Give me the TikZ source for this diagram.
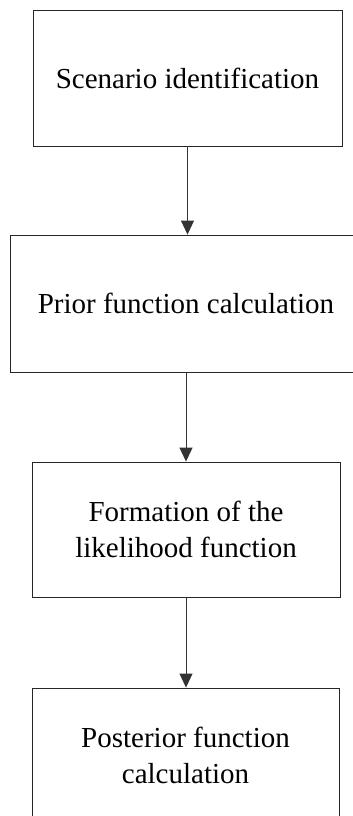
\documentclass[tikz,border=0pt]{standalone}
\usepackage{fontspec}
\setmainfont{Liberation Serif}
\usetikzlibrary{arrows.meta}
\begin{document}
\begin{tikzpicture}[x=1pt,y=-1pt,
  stage/.style={draw=black!85, line width=0.9pt, rectangle, align=center,
    inner sep=0pt, font=\fontsize{29}{35.5}\selectfont},
  flow/.style={draw=black!80, line width=0.9pt,
    -{Triangle[length=14pt,width=13pt]}}]
\useasboundingbox (0,0) rectangle (353,816);
\clip (0,0) rectangle (353,816);
% process stages, top to bottom
\node[stage, minimum width=309pt, minimum height=136pt] (s1) at (187.5,78)
  {Scenario identification};
\node[stage, minimum width=352pt, minimum height=137pt] (s2) at (186,303.5)
  {Prior function calculation};
\node[stage, minimum width=308pt, minimum height=135pt] (s3) at (186,529.5)
  {Formation of the\\likelihood function};
\node[stage, minimum width=307pt, minimum height=135pt] (s4) at (185.5,755.5)
  {Posterior function\\calculation};
% connectors
\draw[flow] (s1.south) -- (s1.south |- s2.north);
\draw[flow] (s2.south) -- (s2.south |- s3.north);
\draw[flow] (s3.south) -- (s3.south |- s4.north);
\end{tikzpicture}
\end{document}
